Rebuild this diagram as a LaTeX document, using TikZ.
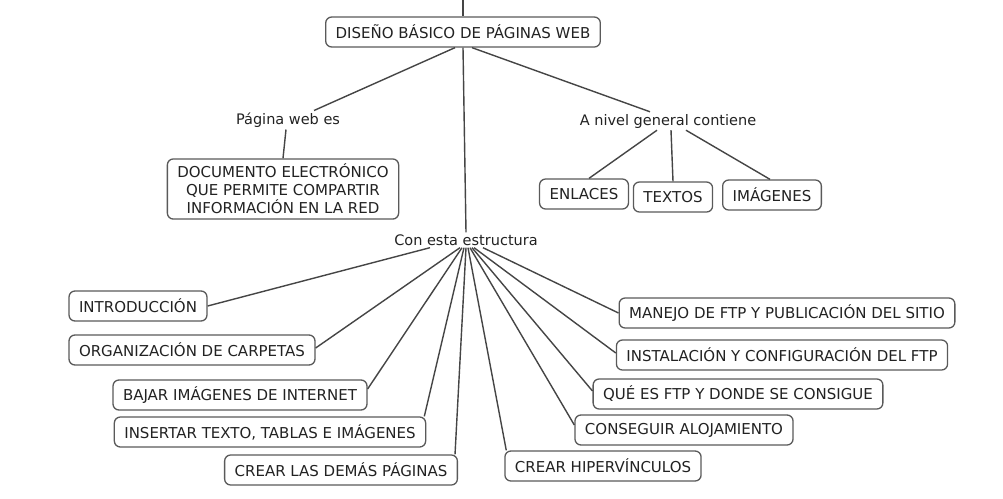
\documentclass[tikz,border=0pt]{standalone}
\usepackage{fontspec}
\setmainfont{DejaVu Sans}
\definecolor{ln}{HTML}{454545}
\definecolor{bd}{HTML}{5A5A5A}
\definecolor{tx}{HTML}{222222}
\tikzset{
  cbox/.style={draw=bd, line width=1.3pt, rounded corners=6pt, fill=white, text=tx,
    inner xsep=10pt, minimum height=30pt, font=\fontsize{15}{18}\selectfont},
  lbl/.style={text=tx, inner sep=2pt, font=\fontsize{14.5}{17}\selectfont},
  conn/.style={draw=ln, line width=1.4pt}
}
\begin{document}
\begin{tikzpicture}[x=1pt,y=-1pt]
\useasboundingbox (0,0) rectangle (1003,498);
\fill[white] (0,0) rectangle (1003,498);
% nodes
\node[cbox] (main) at (463,32) {DISEÑO BÁSICO DE PÁGINAS WEB};
\coordinate (top) at (463,0);
\node[lbl] (pag) at (288,120) {Página web es};
\node[cbox, align=center, inner ysep=5pt] (doc) at (283,189) {DOCUMENTO ELECTRÓNICO\\QUE PERMITE COMPARTIR\\INFORMACIÓN EN LA RED};
\node[lbl] (niv) at (668,121) {A nivel general contiene};
\node[cbox] (enl) at (584,194) {ENLACES};
\node[cbox] (txt) at (673,197) {TEXTOS};
\node[cbox] (img) at (772,195) {IMÁGENES};
\node[lbl] (con) at (466,240) {Con esta estructura};
\node[cbox] (intro) at (138,306) {INTRODUCCIÓN};
\node[cbox] (org) at (192,350) {ORGANIZACIÓN DE CARPETAS};
\node[cbox] (bajar) at (240,395) {BAJAR IMÁGENES DE INTERNET};
\node[cbox] (ins) at (270,432) {INSERTAR TEXTO, TABLAS E IMÁGENES};
\node[cbox] (dem) at (341,470) {CREAR LAS DEMÁS PÁGINAS};
\node[cbox] (hip) at (603,466) {CREAR HIPERVÍNCULOS};
\node[cbox] (alo) at (684,430) {CONSEGUIR ALOJAMIENTO};
\node[cbox] (que) at (738,394) {QUÉ ES FTP Y DONDE SE CONSIGUE};
\node[cbox] (ins2) at (782,355) {INSTALACIÓN Y CONFIGURACIÓN DEL FTP};
\node[cbox] (man) at (787,313) {MANEJO DE FTP Y PUBLICACIÓN DEL SITIO};
% connectors
\draw[conn] (top) -- (main.north);
\draw[conn] ([xshift=-8pt]main.south) -- ([xshift=26pt]pag.north);
\draw[conn] (main.south) -- (con.north);
\draw[conn] ([xshift=9pt]main.south) -- ([xshift=-18pt]niv.north);
\draw[conn] ([xshift=-2pt]pag.south) -- (doc.north);
\draw[conn] ([xshift=-11pt]niv.south) -- ([xshift=5pt]enl.north);
\draw[conn] ([xshift=3pt]niv.south) -- (txt.north);
\draw[conn] ([xshift=18pt]niv.south) -- ([xshift=-2pt]img.north);
\draw[conn] ([xshift=-36pt]con.south) -- (intro.east);
\draw[conn] ([xshift=-6pt]con.south) -- ([yshift=2pt]org.east);
\draw[conn] ([xshift=-4pt]con.south) -- ([yshift=6pt]bajar.east);
\draw[conn] ([xshift=-2pt]con.south) -- ([xshift=-2pt]ins.north east);
\draw[conn] (con.south) -- ([xshift=-3pt]dem.north east);
\draw[conn] ([xshift=2pt]con.south) -- ([xshift=2pt]hip.north west);
\draw[conn] ([xshift=4pt]con.south) -- ([yshift=5pt]alo.west);
\draw[conn] ([xshift=6pt]con.south) -- ([yshift=3pt]que.west);
\draw[conn] ([xshift=8pt]con.south) -- ([yshift=2pt]ins2.west);
\draw[conn] ([xshift=17pt]con.south) -- (man.west);
\end{tikzpicture}
\end{document}
